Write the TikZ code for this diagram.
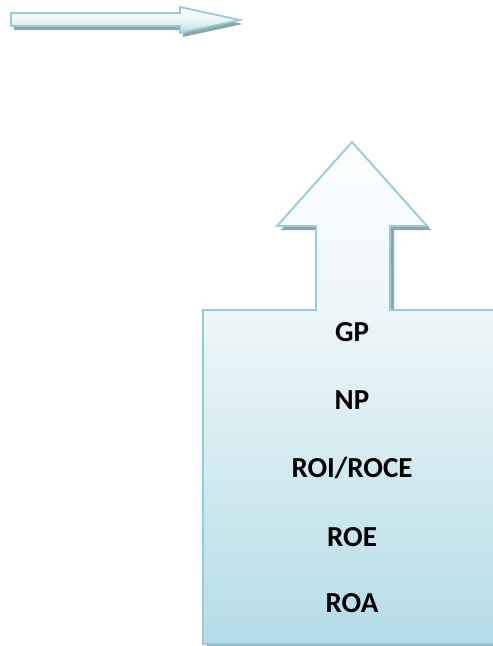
\documentclass[tikz,border=0pt]{standalone}
\usepackage{fontspec}
\setmainfont{Carlito}
\definecolor{aqualine}{HTML}{92CDDC}
\definecolor{shadowgray}{HTML}{8FA5AD}
\definecolor{topc}{HTML}{FCFDFE}
\definecolor{midc}{HTML}{EEF6F9}
\definecolor{botc}{HTML}{B5DCE7}
\pgfdeclareverticalshading{bigshade}{100bp}{color(0bp)=(botc); color(25bp)=(botc); color(58.5bp)=(midc); color(75bp)=(topc); color(100bp)=(topc)}
\pgfdeclareverticalshading{smallshade}{100bp}{color(0bp)=(botc); color(25bp)=(botc); color(50bp)=(midc); color(75bp)=(topc); color(100bp)=(topc)}
\begin{document}
\begin{tikzpicture}[x=1pt,y=-1pt,
  outline/.style={draw=aqualine,line width=1.8pt,line join=miter},
  lbl/.style={font=\bfseries\fontsize{29}{33}\selectfont,text=black,inner sep=0pt}]
\useasboundingbox (0,0) rectangle (493,646);
\clip (0,0) rectangle (493,646);
% small arrow shadow
\fill[shadowgray] (14,17) -- (183,17) -- (183,11) -- (243,24) -- (183,37) -- (183,30) -- (14,30) -- cycle;
% small arrow
\path[outline,shading=smallshade] (11,13) -- (180,13) -- (180,7) -- (240,20) -- (180,33) -- (180,26) -- (11,26) -- cycle;
% big callout shadow
\fill[shadowgray] (207,314) -- (320,314) -- (320,230) -- (281,230) -- (356,146) -- (431,230) -- (394,230) -- (394,314) -- (510,314) -- (510,650) -- (207,650) -- cycle;
% big callout
\path[outline,shading=bigshade] (203,310) -- (316,310) -- (316,226) -- (277,226) -- (352,142) -- (427,226) -- (390,226) -- (390,310) -- (506,310) -- (506,644) -- (203,644) -- cycle;
\node[lbl] (gp) at (352,332) {GP};
\node[lbl] (np) at (352,400) {NP};
\node[lbl] (roi) at (352,468) {ROI/ROCE};
\node[lbl] (roe) at (352,537) {ROE};
\node[lbl] (roa) at (352,603) {ROA};
\end{tikzpicture}
\end{document}
